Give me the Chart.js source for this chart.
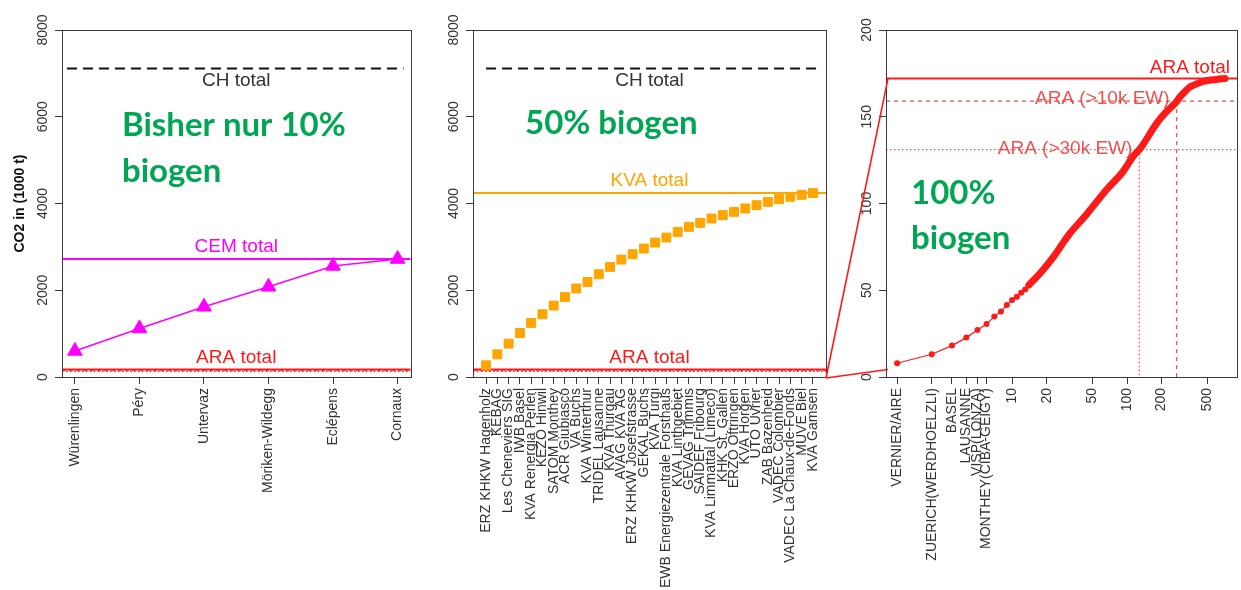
<!DOCTYPE html>
<html>
<head>
<meta charset="utf-8">
<title>CO2 in (1000 t)</title>
<script src="https://cdn.jsdelivr.net/npm/chart.js@4.4.1/dist/chart.umd.min.js"></script>
<style>
  html, body { margin: 0; padding: 0; background: #fff; }
  #wrap { position: relative; width: 1241px; height: 590px; overflow: hidden; background: #fff; }
  .panel { position: absolute; top: 0; }
  #overlay { position: absolute; left: 0; top: 0; pointer-events: none; }
</style>
</head>
<body>
<div id="wrap">
  <canvas id="c1" class="panel" style="left:0px" width="420" height="590"></canvas>
  <canvas id="c2" class="panel" style="left:420px" width="420" height="590"></canvas>
  <canvas id="c3" class="panel" style="left:840px" width="401" height="590"></canvas>
  <canvas id="overlay" width="1241" height="590"></canvas>
</div>
<script>
// ---- Cement plants (CEM): cumulative CO2, 1000 t ----
const cemSites = ['Würenlingen', 'Péry', 'Untervaz', 'Möriken-Wildegg', 'Eclépens', 'Cornaux'];
const cemCumulative = [600, 1120, 1620, 2080, 2560, 2720];

// ---- Waste incineration plants (KVA): cumulative CO2, 1000 t ----
const kvaPlants = [
  'ERZ KHKW Hagenholz', 'KEBAG', 'Les Cheneviers SIG', 'IWB Basel', 'KVA Renergia Perlen',
  'KEZO Hinwil', 'SATOM Monthey', 'ACR Giubiasco', 'VA Buchs', 'KVA Winterthur',
  'TRIDEL Lausanne', 'KVA Thurgau', 'AVAG KVA AG', 'ERZ KHKW Josefstrasse', 'GEKAL Buchs',
  'KVA Turgi', 'EWB Energiezentrale Forsthaus', 'KVA Linthgebiet', 'GEVAG Trimmis', 'SAIDEF Fribourg',
  'KVA Limmattal (Limeco)', 'KHK St. Gallen', 'ERZO Oftringen', 'KVA Horgen', 'UTO Uvrier',
  'ZAB Bazenheid', 'VADEC Colombier', 'VADEC La Chaux-de-Fonds', 'MUVE Biel', 'KVA Gamsen'
];
const kvaCumulative = [
  270, 523, 770, 1015, 1246, 1446, 1646, 1846, 2040, 2192,
  2370, 2538, 2708, 2831, 2962, 3100, 3215, 3346, 3462, 3554,
  3654, 3731, 3808, 3885, 3962, 4038, 4100, 4154, 4200, 4240
];

// ---- Wastewater treatment plants (ARA): cumulative CO2 by plant rank, 1000 t ----
const araRankTicks = [1, 2, 3, 4, 5, 6, 10, 20, 50, 100, 200, 500];
const araRankLabels = ['VERNIER/AIRE', 'ZUERICH(WERDHOELZLI)', 'BASEL', 'LAUSANNE', 'VISP(LONZA)',
  'MONTHEY(CIBA-GEIGY)', '10', '20', '50', '100', '200', '500'];
const araRanks = [1, 2, 3, 4, 5, 6, 7, 8, 9, 10, 11, 12, 13, 14,
  18, 23, 31, 44, 66, 92, 114, 128, 181, 213, 253, 270, 289, 309, 353, 373, 461, 600, 710];
const araCumulative = [7.9, 13.1, 18.1, 22.7, 27.1, 30.5, 34.8, 37.7, 41.5, 44.4, 46.3, 48.6, 50.5, 53.0,
  60.7, 69.4, 81.8, 93.4, 107.8, 118.3, 127.5, 131.0, 146.2, 151.9, 156.8, 158.7, 161.5, 163.5, 167.3, 168.0, 170.4, 171.5, 172];
const ARA_DOT_COUNT = 14;

// ---- Reference totals, 1000 t ----
const CH_TOTAL = 7110;
const CEM_TOTAL = 2720;
const KVA_TOTAL = 4240;
const ARA_TOTAL = 172;
const ARA_10K = 159;
const ARA_30K = 131;
const ARA_RANK_10K = 270;
const ARA_RANK_30K = 128;

// ---- Styling ----
const FONT = "'Liberation Sans', Arial, Helvetica, sans-serif";
const LABEL_FONT = `19px ${FONT}`;
const GREEN = '#00A651';
const GREEN_FONT = "bold 33px Lato, 'Open Sans', sans-serif";
const RED = '#FF1A1A';
const MAGENTA = '#FF00FF';
const ORANGE = '#FFA500';
const AXIS = '#3a3a3a';

function hLine(ctx, x0, x1, y, color, width, dash) {
  ctx.save();
  ctx.strokeStyle = color; ctx.lineWidth = width; ctx.setLineDash(dash || []);
  ctx.beginPath(); ctx.moveTo(x0, y); ctx.lineTo(x1, y); ctx.stroke();
  ctx.restore();
}
function vLine(ctx, x, y0, y1, color, width, dash) {
  ctx.save();
  ctx.strokeStyle = color; ctx.lineWidth = width; ctx.setLineDash(dash || []);
  ctx.beginPath(); ctx.moveTo(x, y0); ctx.lineTo(x, y1); ctx.stroke();
  ctx.restore();
}
function label(ctx, text, x, y, color, align, font) {
  ctx.save();
  ctx.font = font || LABEL_FONT; ctx.fillStyle = color;
  ctx.textAlign = align || 'center'; ctx.textBaseline = 'middle';
  ctx.fillText(text, x, y);
  ctx.restore();
}
function greenText(ctx, lines, x, y0, step) {
  ctx.save();
  ctx.font = GREEN_FONT; ctx.fillStyle = GREEN;
  ctx.textAlign = 'left'; ctx.textBaseline = 'alphabetic';
  lines.forEach((t, i) => ctx.fillText(t, x, y0 + i * step));
  ctx.restore();
}

// Plot box, rotated y tick labels and optional y title (base-graphics look)
function framePlugin(yTitle) {
  return {
    id: 'frame',
    afterDraw(chart) {
      const { ctx, chartArea: a, scales: { y } } = chart;
      ctx.save();
      ctx.strokeStyle = AXIS; ctx.lineWidth = 1;
      ctx.strokeRect(Math.round(a.left) + 0.5, Math.round(a.top) + 0.5,
        Math.round(a.right - a.left), Math.round(a.bottom - a.top));
      ctx.font = `14px ${FONT}`; ctx.fillStyle = '#333';
      ctx.textAlign = 'center'; ctx.textBaseline = 'alphabetic';
      y.ticks.forEach(t => {
        ctx.save();
        ctx.translate(a.left - 15, y.getPixelForValue(t.value));
        ctx.rotate(-Math.PI / 2);
        ctx.fillText(String(t.value), 0, 0);
        ctx.restore();
      });
      if (yTitle) {
        ctx.font = `bold 14px ${FONT}`; ctx.fillStyle = '#111';
        ctx.textBaseline = 'middle';
        ctx.translate(20, (a.top + a.bottom) / 2);
        ctx.rotate(-Math.PI / 2);
        ctx.fillText(yTitle, 0, 0);
      }
      ctx.restore();
    }
  };
}

function xAxisCommon(extra) {
  return Object.assign({
    grid: { display: true, drawOnChartArea: false, drawTicks: true, tickLength: 7, color: AXIS, lineWidth: 1 },
    border: { display: false },
    afterFit(s) { s.height = 213; s.paddingLeft = 0; s.paddingRight = 0; }
  }, extra);
}
function xTicks(labels) {
  return { autoSkip: false, minRotation: 90, maxRotation: 90, padding: 4, color: '#333',
    font: { family: FONT, size: 14 }, callback: (v, i) => labels[i] };
}
function yAxisCommon(max, step, width) {
  return {
    min: 0, max: max,
    grid: { display: true, drawOnChartArea: false, drawTicks: true, tickLength: 7, color: AXIS, lineWidth: 1 },
    border: { display: false },
    ticks: { display: false, stepSize: step },
    afterFit(s) { s.width = width; s.paddingTop = 0; s.paddingBottom = 0; }
  };
}
const commonPlugins = { legend: { display: false }, tooltip: { enabled: false } };

// ARA reference lines shared by the two left panels
function drawAraBand(ctx, a, y) {
  hLine(ctx, a.left, a.right, y.getPixelForValue(ARA_30K), RED, 1.2, [1.5, 2.5]);
  hLine(ctx, a.left, a.right, y.getPixelForValue(ARA_10K), RED, 1.2, [4, 3]);
  hLine(ctx, a.left, a.right, y.getPixelForValue(ARA_TOTAL), RED, 2);
}

// ================= Panel 1: cement =================
const chart1 = new Chart(document.getElementById('c1'), {
  type: 'scatter',
  data: {
    datasets: [{
      data: cemCumulative.map((v, i) => ({ x: i + 1, y: v })),
      showLine: true, borderColor: MAGENTA, borderWidth: 1.5,
      pointStyle: 'triangle', pointRadius: 8.5, pointBackgroundColor: MAGENTA, pointBorderColor: MAGENTA, pointBorderWidth: 1
    }]
  },
  options: {
    responsive: false, animation: false,
    layout: { padding: { top: 30, right: 7, left: 0, bottom: 0 } },
    plugins: commonPlugins,
    scales: {
      x: xAxisCommon({
        type: 'linear', min: 1 - 0.04 * (cemSites.length - 1), max: cemSites.length + 0.04 * (cemSites.length - 1),
        afterBuildTicks(s) { s.ticks = cemSites.map((_, i) => ({ value: i + 1 })); },
        ticks: xTicks(cemSites)
      }),
      y: yAxisCommon(8000, 2000, 62)
    }
  },
  plugins: [{
    id: 'refs1',
    beforeDatasetsDraw(chart) {
      const { ctx, chartArea: a, scales: { x, y } } = chart;
      const yc = y.getPixelForValue(CH_TOTAL);
      hLine(ctx, x.getPixelForValue(1) - 8, x.getPixelForValue(cemSites.length) + 6, yc, '#111', 2, [10, 6]);
      hLine(ctx, a.left, a.right, y.getPixelForValue(CEM_TOTAL), MAGENTA, 2);
      drawAraBand(ctx, a, y);
      const cx = (a.left + a.right) / 2;
      label(ctx, 'CH total', cx, yc + 12, '#333');
      label(ctx, 'CEM total', cx, y.getPixelForValue(CEM_TOTAL) - 12, MAGENTA);
      label(ctx, 'ARA total', cx, y.getPixelForValue(ARA_TOTAL) - 12, RED);
      greenText(ctx, ['Bisher nur 10%', 'biogen'], a.left + 60, a.top + 106, 46);
    }
  }, framePlugin('CO2 in (1000 t)')]
});

// ================= Panel 2: waste incineration =================
const chart2 = new Chart(document.getElementById('c2'), {
  type: 'scatter',
  data: {
    datasets: [{
      data: kvaCumulative.map((v, i) => ({ x: i + 1, y: v })),
      showLine: false, pointStyle: 'rect', pointRadius: 6.3,
      pointBackgroundColor: ORANGE, pointBorderColor: ORANGE, pointBorderWidth: 1
    }]
  },
  options: {
    responsive: false, animation: false,
    layout: { padding: { top: 30, right: 14, left: 0, bottom: 0 } },
    plugins: commonPlugins,
    scales: {
      x: xAxisCommon({
        type: 'linear', min: 1 - 0.04 * (kvaPlants.length - 1), max: kvaPlants.length + 0.04 * (kvaPlants.length - 1),
        afterBuildTicks(s) { s.ticks = kvaPlants.map((_, i) => ({ value: i + 1 })); },
        ticks: xTicks(kvaPlants)
      }),
      y: yAxisCommon(8000, 2000, 53)
    }
  },
  plugins: [{
    id: 'refs2',
    beforeDatasetsDraw(chart) {
      const { ctx, chartArea: a, scales: { x, y } } = chart;
      const yc = y.getPixelForValue(CH_TOTAL);
      hLine(ctx, x.getPixelForValue(1), x.getPixelForValue(kvaPlants.length) + 5, yc, '#111', 2, [10, 6]);
      hLine(ctx, a.left, a.right, y.getPixelForValue(KVA_TOTAL), ORANGE, 2);
      drawAraBand(ctx, a, y);
      const cx = (a.left + a.right) / 2;
      label(ctx, 'CH total', cx, yc + 12, '#333');
      label(ctx, 'KVA total', cx, y.getPixelForValue(KVA_TOTAL) - 12, ORANGE);
      label(ctx, 'ARA total', cx, y.getPixelForValue(ARA_TOTAL) - 12, RED);
      greenText(ctx, ['50% biogen'], a.left + 52, a.top + 104, 46);
    }
  }, framePlugin(null)]
});

// ================= Panel 3: wastewater treatment, log rank axis =================
const araPoints = araRanks.map((r, i) => ({ x: r, y: araCumulative[i] }));
const chart3 = new Chart(document.getElementById('c3'), {
  type: 'scatter',
  data: {
    datasets: [{
      data: araPoints.slice(ARA_DOT_COUNT - 1),
      showLine: true, borderColor: RED, borderWidth: 7, borderCapStyle: 'round', borderJoinStyle: 'round',
      cubicInterpolationMode: 'monotone', pointRadius: 0
    }, {
      data: araPoints.slice(0, ARA_DOT_COUNT),
      showLine: true, borderColor: RED, borderWidth: 1.2,
      pointStyle: 'circle', pointRadius: 3, pointBackgroundColor: RED, pointBorderWidth: 0
    }]
  },
  options: {
    responsive: false, animation: false,
    layout: { padding: { top: 30, right: 4, left: 0, bottom: 0 } },
    plugins: commonPlugins,
    scales: {
      x: xAxisCommon({
        type: 'logarithmic', min: 0.8, max: 905,
        afterBuildTicks(s) { s.ticks = araRankTicks.map(v => ({ value: v })); },
        ticks: xTicks(araRankLabels)
      }),
      y: yAxisCommon(200, 50, 46)
    }
  },
  plugins: [{
    id: 'refs3',
    beforeDatasetsDraw(chart) {
      const { ctx, chartArea: a, scales: { x, y } } = chart;
      const fade = 'rgba(235,40,40,0.8)';
      const y10 = y.getPixelForValue(ARA_10K), y30 = y.getPixelForValue(ARA_30K), yt = y.getPixelForValue(ARA_TOTAL);
      const x10 = x.getPixelForValue(ARA_RANK_10K), x30 = x.getPixelForValue(ARA_RANK_30K);
      hLine(ctx, a.left, a.right, y30, fade, 1.3, [1.5, 2.5]);
      hLine(ctx, a.left, a.right, y10, fade, 1.3, [4, 4]);
      vLine(ctx, x30, y30, a.bottom, fade, 1.3, [1.5, 2.5]);
      vLine(ctx, x10, y10, a.bottom, fade, 1.3, [4, 4]);
      hLine(ctx, a.left, a.right, yt, RED, 2);
      label(ctx, 'ARA total', a.right - 7, yt - 11, RED, 'right');
      label(ctx, 'ARA (>10k EW)', x10 - 7, y10 - 2, 'rgba(235,50,50,0.85)', 'right');
      label(ctx, 'ARA (>30k EW)', x30 - 7, y30 - 1, 'rgba(235,50,50,0.85)', 'right');
      greenText(ctx, ['100%', 'biogen'], a.left + 25, a.top + 174, 45);
    }
  }, framePlugin(null)]
});

// ---- Zoom connectors from the middle panel's ARA band to the right panel ----
(function drawConnectors() {
  const ctx = document.getElementById('overlay').getContext('2d');
  const a2 = chart2.chartArea, a3 = chart3.chartArea;
  const x0 = 420 + a2.right, y0 = chart2.scales.y.getPixelForValue(0) + 1;
  const x1 = 840 + a3.left;
  ctx.strokeStyle = RED; ctx.lineWidth = 1.6;
  ctx.beginPath();
  ctx.moveTo(x0, y0); ctx.lineTo(x1 + 2, chart3.scales.y.getPixelForValue(ARA_TOTAL));
  ctx.moveTo(x0, y0); ctx.lineTo(x1 + 2, chart2.scales.y.getPixelForValue(ARA_TOTAL));
  ctx.stroke();
})();
</script>
</body>
</html>
